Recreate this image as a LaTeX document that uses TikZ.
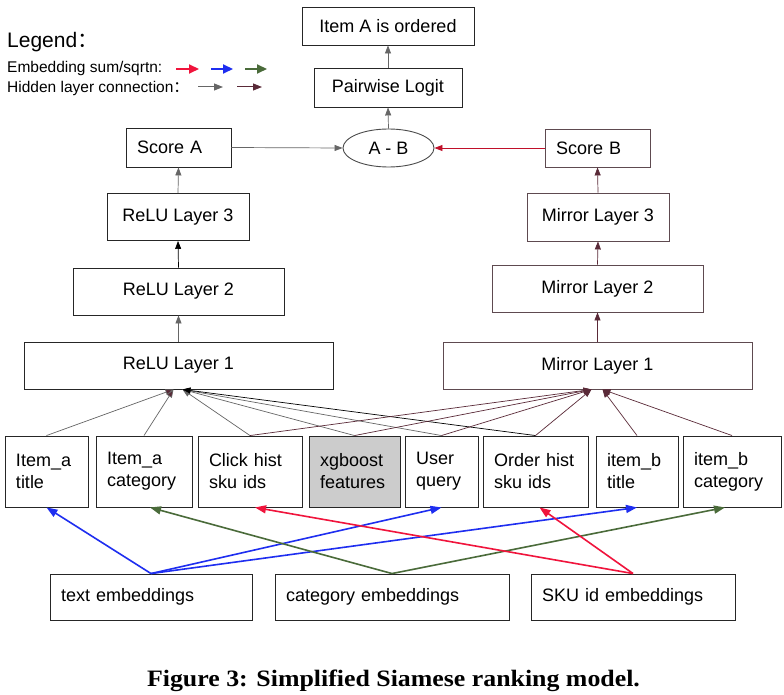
\documentclass[tikz,border=0pt]{standalone}
\usepackage{fontspec}
\setmainfont{Liberation Sans}
\newfontfamily\capfont[FakeStretch=1.1]{Liberation Serif}
\newfontfamily\cjk{Noto Sans CJK SC}
\usetikzlibrary{arrows.meta,shapes.geometric,calc}
\definecolor{hgray}{HTML}{666666}
\definecolor{hmaroon}{HTML}{5A2A38}
\definecolor{ered}{HTML}{F0143C}
\definecolor{eblue}{HTML}{1E2EF0}
\definecolor{egreen}{HTML}{4A6B3A}
\definecolor{mborder}{HTML}{5E4A50}
\definecolor{xgfill}{HTML}{CCCCCC}
\definecolor{sred}{HTML}{C0102A}
\tikzset{
  bx/.style={draw=black!85, line width=0.9pt, fill=white, font=\fontsize{18}{22}\selectfont, inner ysep=0pt, align=center},
  mbx/.style={bx, draw=mborder},
  lft/.style={text width=#1, align=left, inner xsep=11pt},
  hid/.style={draw=hgray, line width=0.7pt, -{Triangle[length=8pt,width=6pt]}},
  hidm/.style={draw=hmaroon, line width=0.7pt, -{Triangle[length=8pt,width=6pt]}},
  emb/.style={line width=1.6pt, -{Triangle[length=11pt,width=8pt]}},
  legt/.style={anchor=base west, inner sep=0pt},
}
\begin{document}
\begin{tikzpicture}[x=1pt,y=-1pt]
\useasboundingbox[fill=white] (0,0) rectangle (784,695);

% legend
\node[legt, font=\fontsize{21}{21}\selectfont] (leg) at (7,48) {Legend{\cjk ：}};
\node[legt, font=\fontsize{15.5}{15.5}\selectfont] (leg1) at (7,73) {Embedding sum/sqrtn:};
\node[legt, font=\fontsize{15.5}{15.5}\selectfont] (leg2) at (7,93) {Hidden layer connection{\cjk ：}};
\coordinate (lra) at (176,69); \coordinate (lrb) at (199,69);
\coordinate (lba) at (211,69); \coordinate (lbb) at (233,69);
\coordinate (lga) at (245,69); \coordinate (lgb) at (267,69);
\coordinate (lha) at (198,87); \coordinate (lhb) at (223,87);
\coordinate (lma) at (237,87); \coordinate (lmb) at (262,87);
\draw[ered, line width=2pt, -{Triangle[length=10pt,width=9pt]}] (lra) -- (lrb);
\draw[eblue, line width=2pt, -{Triangle[length=10pt,width=9pt]}] (lba) -- (lbb);
\draw[egreen, line width=2pt, -{Triangle[length=10pt,width=9pt]}] (lga) -- (lgb);
\draw[hgray, line width=1pt, -{Triangle[length=9pt,width=7pt]}] (lha) -- (lhb);
\draw[hmaroon, line width=1pt, -{Triangle[length=9pt,width=7pt]}] (lma) -- (lmb);

% top
\node[bx, minimum width=172, minimum height=38] (order) at (388,26) {Item A is ordered};
\node[bx, minimum width=148, minimum height=39] (logit) at (388,87.5) {Pairwise Logit};
\node[ellipse, draw=black!70, line width=0.9pt, fill=white, minimum width=91, minimum height=38, inner sep=0pt, font=\fontsize{18}{22}\selectfont] (ab) at (388.5,148) {A - B};
\node[bx, lft=83, minimum height=39] (sa) at (178.5,147.5) {Score A};
\node[mbx, lft=83, minimum height=38] (sb) at (597.5,148) {Score B};

% layers
\node[bx, minimum width=142, minimum height=47] (r3) at (178,217) {ReLU Layer 3};
\node[mbx, minimum width=142, minimum height=48] (m3) at (598,217) {Mirror Layer 3};
\node[bx, minimum width=211, minimum height=47] (r2) at (178.5,291.5) {ReLU Layer 2};
\node[mbx, minimum width=211, minimum height=47] (m2) at (597.5,288.5) {Mirror Layer 2};
\node[bx, minimum width=309, minimum height=47] (r1) at (178.5,365.5) {ReLU Layer 1};
\node[mbx, minimum width=309, minimum height=47] (m1) at (597.5,365.5) {Mirror Layer 1};

% features
\node[bx, lft=61, minimum height=71] (fa) at (46.5,471.5) {Item\_a\\title};
\node[bx, lft=74, minimum height=71] (fb) at (144,471.5) {Item\_a\\category};
\node[bx, lft=82, minimum height=71] (fc) at (250,471.5) {Click hist\\sku ids};
\node[bx, lft=69, minimum height=71, fill=xgfill] (fd) at (354.5,471.5) {xgboost\\features};
\node[bx, lft=51, minimum height=71] (fe) at (441.5,471.5) {User\\query};
\node[bx, lft=83, minimum height=71] (ff) at (535.5,471.5) {Order hist\\sku ids};
\node[bx, lft=60, minimum height=71] (fg) at (637,471.5) {item\_b\\title};
\node[bx, lft=76, minimum height=71] (fh) at (732,471.5) {item\_b\\category};

% embeddings
\node[bx, lft=180, minimum height=46] (te) at (151,597) {text embeddings};
\node[bx, lft=212, minimum height=46] (ce) at (392,597) {category embeddings};
\node[bx, lft=182, minimum height=46] (se) at (633,597) {SKU id embeddings};

% caption
\node[anchor=base, inner sep=0pt, font=\capfont\bfseries\fontsize{23.5}{23.5}\selectfont] (cap) at (393.5,686) {Figure 3: Simplified Siamese ranking model.};

% top connectors
\draw[hid] (sa.east) -- (ab.west);
\draw[draw=sred, line width=0.8pt, -{Triangle[length=8pt,width=6pt]}] (sb.west) -- (ab.east);
\draw[hid] (ab.north) -- (logit.south);
\draw[hid] (logit.north) -- (order.south);
\draw[hid] (r3.north) -- (sa.south);
\draw[hid, draw=black] (r2.north) -- (r3.south);
\draw[hid] (r1.north) -- (r2.south);
\draw[hidm] (m1.north) -- (m2.south);
\draw[hidm] (m2.north) -- (m3.south);
\draw[hidm] (m3.north) -- (sb.south);

% hidden connections
\draw[hid, -{Triangle[length=8pt,width=6pt,fill=hmaroon]}] (fa.north) -- ([xshift=-5pt]r1.south);
\draw[hid, -{Triangle[length=8pt,width=6pt,fill=hmaroon]}] (fb.north) -- ([xshift=-5pt]r1.south);
\draw[hid] (fc.north) -- ([xshift=4pt]r1.south);
\draw[hid] (fd.north) -- ([xshift=4pt]r1.south);
\draw[hid] (fe.north) -- ([xshift=4pt]r1.south);
\draw[hid, draw=black] (ff.north) -- ([xshift=4pt]r1.south);
\draw[hidm] (fc.north) -- ([xshift=-6pt]m1.south);
\draw[hidm] (fd.north) -- ([xshift=-6pt]m1.south);
\draw[hidm] (fe.north) -- ([xshift=-6pt]m1.south);
\draw[hidm] (ff.north) -- ([xshift=-6pt]m1.south);
\draw[hidm] (fg.north) -- ([xshift=5pt]m1.south);
\draw[hidm] (fh.north) -- ([xshift=5pt]m1.south);

% embedding connections
\draw[emb, eblue] (te.north) -- (fa.south);
\draw[emb, eblue] (te.north) -- (fe.south);
\draw[emb, eblue] (te.north) -- (fg.south);
\draw[emb, egreen] (ce.north) -- ([xshift=6pt]fb.south);
\draw[emb, egreen] (ce.north) -- ([xshift=-7pt]fh.south);
\draw[emb, ered] (se.north) -- ([xshift=5pt]fc.south);
\draw[emb, ered] (se.north) -- ([xshift=4pt]ff.south);
\end{tikzpicture}
\end{document}
